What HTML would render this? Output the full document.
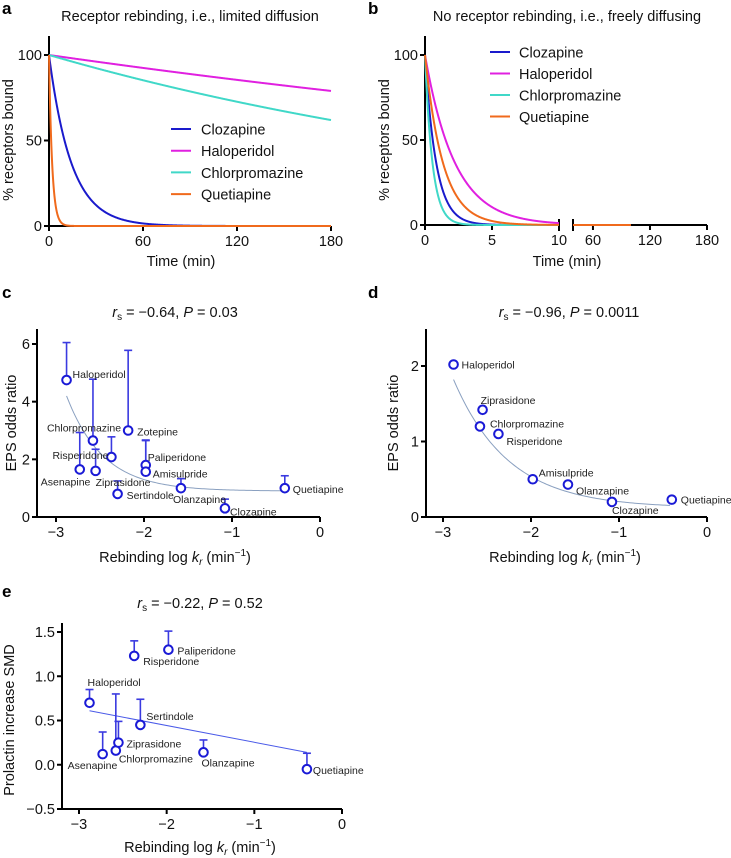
<!DOCTYPE html>
<html><head><meta charset="utf-8"><style>
html,body{margin:0;padding:0;background:#fff;}
svg{display:block;font-family:"Liberation Sans",Arial,sans-serif;}
.t{font-size:14.5px;fill:#111;}
.ttl{font-size:14.5px;fill:#111;}
.lb{font-size:10.5px;fill:#222;}
.pl{font-size:17px;font-weight:bold;fill:#000;}
</style></head><body>
<svg id="fig" width="731" height="858" viewBox="0 0 731 858">
<text class="pl" x="2" y="14">a</text>
<text class="ttl" x="190" y="21" text-anchor="middle">Receptor rebinding, i.e., limited diffusion</text>
<text class="pl" x="368" y="14">b</text>
<text class="ttl" x="567" y="21" text-anchor="middle">No receptor rebinding, i.e., freely diffusing</text>
<text class="pl" x="2" y="298">c</text>
<text class="ttl" x="175" y="317" text-anchor="middle"><tspan font-style="italic">r</tspan><tspan font-size="10" dy="3">s</tspan><tspan dy="-3"> = −0.64, </tspan><tspan font-style="italic">P</tspan> = 0.03</text>
<text class="pl" x="368" y="298">d</text>
<text class="ttl" x="569" y="317" text-anchor="middle"><tspan font-style="italic">r</tspan><tspan font-size="10" dy="3">s</tspan><tspan dy="-3"> = −0.96, </tspan><tspan font-style="italic">P</tspan> = 0.0011</text>
<text class="pl" x="2" y="597">e</text>
<text class="ttl" x="200" y="608" text-anchor="middle"><tspan font-style="italic">r</tspan><tspan font-size="10" dy="3">s</tspan><tspan dy="-3"> = −0.22, </tspan><tspan font-style="italic">P</tspan> = 0.52</text>
</svg>
<script>
// ---- data ----
const drugsA = ['Clozapine','Haloperidol','Chlorpromazine','Quetiapine'];
const colorsA = ['#1a1acc','#e020e0','#40d8c8','#f06a1c'];
const ratesA = [0.07, 0.00131, 0.00266, 0.5];   // per min, rebinding
const ratesB = [1.2, 0.45, 1.8, 0.75];          // per min, free diffusion
const ticksA = [0,60,120,180];
const ticksB1 = [0,5,10];
const ticksB2 = [60,120,180];
const ticksPct = [0,50,100];

const namesC = ['Haloperidol','Chlorpromazine','Risperidone','Asenapine','Ziprasidone','Zotepine','Paliperidone','Amisulpride','Sertindole','Olanzapine','Clozapine','Quetiapine'];
const xC = [-2.88,-2.58,-2.37,-2.73,-2.55,-2.18,-1.98,-1.98,-2.3,-1.58,-1.08,-0.4];
const yC = [4.75,2.65,2.08,1.65,1.6,3.0,1.8,1.57,0.8,1.0,0.3,1.0];
const upC = [6.05,4.78,2.78,2.93,2.35,5.78,2.67,2.65,1.25,1.33,0.62,1.43];
const fitC = [0.9, 3.3, 2.4];
const ticksYC = [0,2,4,6];

const namesD = ['Haloperidol','Ziprasidone','Chlorpromazine','Risperidone','Amisulpride','Olanzapine','Clozapine','Quetiapine'];
const xD = [-2.88,-2.55,-2.58,-2.37,-1.98,-1.58,-1.08,-0.4];
const yD = [2.02,1.42,1.2,1.1,0.5,0.43,0.2,0.23];
const fitD = [0.12, 1.7, 1.6];
const ticksYD = [0,1,2];

const namesE = ['Haloperidol','Asenapine','Chlorpromazine','Ziprasidone','Sertindole','Risperidone','Paliperidone','Olanzapine','Quetiapine'];
const xE = [-2.88,-2.73,-2.58,-2.55,-2.3,-2.37,-1.98,-1.58,-0.4];
const yE = [0.70,0.12,0.16,0.25,0.45,1.23,1.30,0.14,-0.05];
const upE = [0.85,0.37,0.80,0.49,0.74,1.40,1.51,0.28,0.13];
const fitE = [0.61, 0.14];
const ticksYE = [-0.5,0,0.5,1.0,1.5];
const ticksX = [-3,-2,-1,0];

// label offsets (px) relative to point
const offC = [[6,-2],[-46,-9],[-59,2],[-39,16],[0,15],[9,5],[2,-4],[7,6],[9,5],[-8,15],[5,7],[8,5]];
const offD = [[8,4],[-2,-6],[10,1],[8,11],[6,-3],[8,10],[0,12],[9,4]];
const offE = [[-2,-17],[-35,15],[3,12],[8,5],[6,-5],[9,9],[9,5],[-2,14],[6,5]];

// ---- helpers ----
const NS='http://www.w3.org/2000/svg';
const svg=document.getElementById('fig');
function mk(tag,attrs,parent){const e=document.createElementNS(NS,tag);for(const k in attrs)e.setAttribute(k,attrs[k]);(parent||svg).appendChild(e);return e;}
function lin(d0,d1,r0,r1){return v=>r0+(v-d0)*(r1-r0)/(d1-d0);}
function txt(x,y,s,cls,anchor,name){const t=mk('text',{x:x,y:y,class:cls,'text-anchor':anchor||'start'});t.textContent=s;


return t;}
function axisLine(x1,y1,x2,y2,name){const l=mk('line',{x1:x1,y1:y1,x2:x2,y2:y2,stroke:'#000','stroke-width':2});


return l;}
function yAxis(x0,yTop,yBot,ticks,sy,fmt,name){
  axisLine(x0,yTop,x0,yBot+1,name);
  ticks.forEach(v=>{const y=sy(v);
    const tk=mk('line',{x1:x0-5,y1:y,x2:x0,y2:y,stroke:'#000','stroke-width':2});
    
    
    txt(x0-7,y+5,fmt(v),'t','end',name+'-tick-label');});
}
function xAxis(y0,xL,xR,ticks,sx,fmt,name){
  axisLine(xL-1,y0,xR,y0,name);
  ticks.forEach(v=>{const x=sx(v);
    const tk=mk('line',{x1:x,y1:y0,x2:x,y2:y0+5,stroke:'#000','stroke-width':2});
    
    
    txt(x,y0+20,fmt(v),'t','middle',name+'-tick-label');});
}
function ytitle(x,y,s,name){const t=txt(0,0,s,'t','middle',name);t.setAttribute('transform','translate('+x+','+y+') rotate(-90)');t.setAttribute('font-size','15');}
function xtitleK(x,y,name){const t=mk('text',{x:x,y:y,class:'t','text-anchor':'middle','font-size':'15'});


t.innerHTML='Rebinding log <tspan font-style="italic">k</tspan><tspan font-style="italic" font-size="10" dy="3">r</tspan><tspan dy="-3"> (min</tspan><tspan font-size="10" dy="-6">−1</tspan><tspan dy="6">)</tspan>';}
function fmtMinus(v){return (v<0?'−':'')+Math.abs(v);}
function path(pts,color,w,name){const d=pts.map((p,i)=>(i?'L':'M')+p[0].toFixed(2)+' '+p[1].toFixed(2)).join('');
const p=mk('path',{d:d,fill:'none',stroke:color,'stroke-width':w});


return p;}

// ---- Panel a ----
(function(){
  const sx=lin(0,180,49,331), sy=lin(0,100,226,55);
  yAxis(49,36,226,ticksPct,sy,v=>''+v,'y-axis-a');
  xAxis(226,49,331,ticksA,sx,v=>''+v,'x-axis-a');
  drugsA.forEach((n,i)=>{const pts=[];for(let t=0;t<=180;t+=0.25)pts.push([sx(t),sy(100*Math.exp(-ratesA[i]*t))]);
    path(pts,colorsA[i],2,'curve-a-'+n.toLowerCase());});
  ytitle(13,140,'% receptors bound','y-axis-title-a');
  txt(181,266,'Time (min)','t','middle','x-axis-title-a').setAttribute('font-size','15');
  drugsA.forEach((n,i)=>{const y=129+i*21.7;
    const l=mk('line',{x1:171,y1:y,x2:191,y2:y,stroke:colorsA[i],'stroke-width':2});
    
    
    txt(201,y+5.5,n,'t','start','legend-a-entry').setAttribute('font-size','15.5');});
})();

// ---- Panel b ----
(function(){
  const s1=lin(0,10,425,559), s2=lin(39,180,573,707), sy=lin(0,100,225,55);
  axisLine(425,36,425,226,'y-axis-b');
  ticksPct.forEach(v=>{const y=sy(v);
    const tk=mk('line',{x1:420,y1:y,x2:425,y2:y,stroke:'#000','stroke-width':2});
    
    
    txt(418,y+5,''+v,'t','end','y-axis-b-tick-label');});
  axisLine(424,225,559,225,'x-axis-b-segment1');
  axisLine(573,225,707,225,'x-axis-b-segment2');
  [559,573].forEach(x=>{const b=mk('line',{x1:x,y1:219,x2:x,y2:231,stroke:'#000','stroke-width':2});
    
    });
  ticksB1.forEach(v=>{const x=s1(v);const tk=mk('line',{x1:x,y1:225,x2:x,y2:230,stroke:'#000','stroke-width':2});
    
    
    txt(x,245,''+v,'t','middle','x-axis-b-tick-label');});
  ticksB2.forEach(v=>{const x=s2(v);const tk=mk('line',{x1:x,y1:225,x2:x,y2:230,stroke:'#000','stroke-width':2});
    
    
    txt(x,245,''+v,'t','middle','x-axis-b-tick-label');});
  drugsA.forEach((n,i)=>{const pts=[];for(let t=0;t<=10;t+=0.02)pts.push([s1(t),sy(100*Math.exp(-ratesB[i]*t))]);
    path(pts,colorsA[i],2,'curve-b-'+n.toLowerCase());});
  path([[s2(39),225],[s2(100),225]],colorsA[3],2,'curve-b-tail');
  ytitle(389,140,'% receptors bound','y-axis-title-b');
  txt(567,266,'Time (min)','t','middle','x-axis-title-b').setAttribute('font-size','15');
  drugsA.forEach((n,i)=>{const y=52+i*21.5;
    const l=mk('line',{x1:490,y1:y,x2:510,y2:y,stroke:colorsA[i],'stroke-width':2});
    
    
    txt(519,y+5.5,n,'t','start','legend-b-entry').setAttribute('font-size','15.5');});
})();

// ---- scatter helper ----
const BLUE='#1a1ad6';
function scatter(p){
  const {sx,sy,xs,ys,ups,names,offs,key}=p;
  if(ups) xs.forEach((x,i)=>{const cx=sx(x),y0=sy(ys[i])-4.5,y1=sy(ups[i]);
    const e=mk('line',{x1:cx,y1:y0,x2:cx,y2:y1,stroke:'#3a3ae0','stroke-width':1.6});
    
    
    const c=mk('line',{x1:cx-4,y1:y1,x2:cx+4,y2:y1,stroke:'#3a3ae0','stroke-width':1.6});
    
    });
  xs.forEach((x,i)=>{const c=mk('circle',{cx:sx(x),cy:sy(ys[i]),r:4.3,fill:'#fff',stroke:BLUE,'stroke-width':2});
    
    });
  xs.forEach((x,i)=>{txt(sx(x)+offs[i][0],sy(ys[i])+offs[i][1],names[i],'lb','start','point-label-'+key);});
}

// ---- Panel c ----
(function(){
  const sx=lin(-3,0,56,320), sy=lin(0,6,517,344);
  const pts=[];for(let x=-2.88;x<=-0.4;x+=0.02)pts.push([sx(x),sy(fitC[0]+fitC[1]*Math.exp(-fitC[2]*(x+2.88)))]);
  path(pts,'#8aa0c0',1,'fit-curve-c');
  yAxis(37,329,517,ticksYC,sy,v=>''+v,'y-axis-c');
  xAxis(517,37,320,ticksX,sx,fmtMinus,'x-axis-c');
  scatter({sx,sy,xs:xC,ys:yC,ups:upC,names:namesC,offs:offC,key:'c'});
  ytitle(16,423,'EPS odds ratio','y-axis-title-c');
  xtitleK(175,562,'x-axis-title-c');
})();

// ---- Panel d ----
(function(){
  const sx=lin(-3,0,443,707), sy=lin(0,2,517,366);
  const pts=[];for(let x=-2.88;x<=-0.4;x+=0.02)pts.push([sx(x),sy(fitD[0]+fitD[1]*Math.exp(-fitD[2]*(x+2.88)))]);
  path(pts,'#8aa0c0',1,'fit-curve-d');
  yAxis(426,329,517,ticksYD,sy,v=>''+v,'y-axis-d');
  xAxis(517,426,707,ticksX,sx,fmtMinus,'x-axis-d');
  scatter({sx,sy,xs:xD,ys:yD,ups:null,names:namesD,offs:offD,key:'d'});
  ytitle(398,423,'EPS odds ratio','y-axis-title-d');
  xtitleK(565,562,'x-axis-title-d');
})();

// ---- Panel e ----
(function(){
  const sx=lin(-3,0,79,342), sy=lin(-0.5,1.5,809,632);
  path([[sx(-2.88),sy(fitE[0])],[sx(-0.4),sy(fitE[1])]],'#4a5ae8',1,'fit-line-e');
  yAxis(62,623,809,ticksYE,sy,v=>(v<0?'−':'')+Math.abs(v).toFixed(1),'y-axis-e');
  xAxis(809,62,342,ticksX,sx,fmtMinus,'x-axis-e');
  scatter({sx,sy,xs:xE,ys:yE,ups:upE,names:namesE,offs:offE,key:'e'});
  ytitle(14,720,'Prolactin increase SMD','y-axis-title-e');
  xtitleK(200,852,'x-axis-title-e');
})();
</script>
</body></html>
